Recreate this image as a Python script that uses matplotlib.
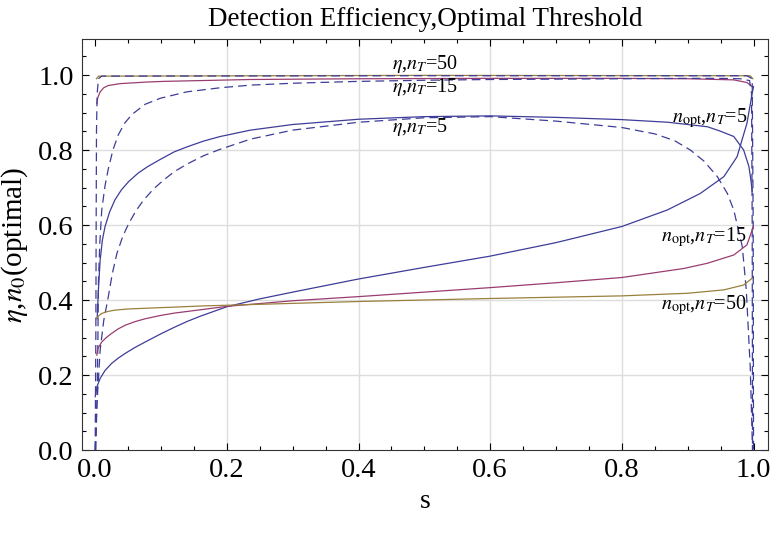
import numpy as np
import matplotlib
matplotlib.use('Agg')
import matplotlib.pyplot as plt
from matplotlib.ticker import MultipleLocator

plt.rcParams['font.family'] = ['Liberation Serif', 'DejaVu Serif']
plt.rcParams['mathtext.fontset'] = 'stix'

# colours (Mathematica default plot style)
c1 = '#3d3d99'
c2 = '#993d71'
c3 = '#99803d'

# efficiency, n_T = 5 (solid)
s_eta5 = [0.003, 0.005, 0.0076, 0.011, 0.015, 0.022, 0.030, 0.040, 0.051, 0.065, 0.080, 0.099, 0.12,
          0.139, 0.165, 0.19, 0.236, 0.3, 0.4, 0.5, 0.6, 0.7, 0.8, 0.87, 0.93, 0.95, 0.97, 0.985,
          0.993, 0.996, 0.998]
eta5 = [0.35, 0.43, 0.507, 0.56, 0.596, 0.635, 0.667, 0.694, 0.716, 0.738, 0.756, 0.775, 0.795,
        0.808, 0.824, 0.836, 0.853, 0.868, 0.882, 0.889, 0.891, 0.887, 0.881, 0.874, 0.862, 0.850,
        0.836, 0.80, 0.756, 0.72, 0.69]

# efficiency, n_T = 15 (solid)
s_eta15 = [0.0025, 0.004, 0.0076, 0.013, 0.02, 0.038, 0.076, 0.104, 0.236, 0.4, 0.6, 0.8, 0.9,
           0.97, 0.99, 0.998]
eta15 = [0.924, 0.94, 0.955, 0.966, 0.972, 0.977, 0.981, 0.983, 0.988, 0.99, 0.991, 0.991, 0.99,
         0.987, 0.98, 0.969]

# efficiency, n_T = 50 (solid)
s_eta50 = [0.002, 0.005, 0.5, 0.995, 0.999]
eta50 = [0.99, 0.997, 0.999, 0.998, 0.99]

# dashed curves
s_d5 = [0.0, 0.0025, 0.0076, 0.013, 0.020, 0.026, 0.033, 0.042, 0.051, 0.062, 0.073, 0.088, 0.104,
        0.12, 0.139, 0.165, 0.19, 0.236, 0.3, 0.4, 0.5, 0.6, 0.7, 0.8, 0.85, 0.88, 0.904, 0.925,
        0.945, 0.96, 0.970, 0.983, 0.989, 0.995, 0.9985]
d5 = [0.0, 0.116, 0.267, 0.345, 0.409, 0.47, 0.524, 0.57, 0.604, 0.638, 0.665, 0.695, 0.72,
      0.742, 0.762, 0.785, 0.802, 0.829, 0.853, 0.874, 0.886, 0.889, 0.877, 0.860, 0.843, 0.825,
      0.80, 0.77, 0.729, 0.685, 0.64, 0.542, 0.427, 0.222, 0.0]

s_d15 = [0.001, 0.003, 0.004, 0.005, 0.007, 0.010, 0.015, 0.020, 0.027, 0.035, 0.045, 0.056,
         0.076, 0.099, 0.139, 0.19, 0.236, 0.3, 0.4, 0.5, 0.6, 0.7, 0.8, 0.9, 0.95, 0.98, 0.994,
         0.997, 0.998, 0.9985]
d15 = [0.0, 0.15, 0.27, 0.45, 0.55, 0.64, 0.705, 0.75, 0.80, 0.84, 0.872, 0.895,
       0.922, 0.938, 0.955, 0.966, 0.973, 0.978, 0.983, 0.986, 0.988, 0.989, 0.99, 0.991,
       0.991, 0.99, 0.985, 0.95, 0.6, 0.0]

s_d50 = [0.0, 0.001, 0.0015, 0.002, 0.003, 0.005, 0.01, 0.5, 0.99, 0.998, 0.9995, 1.0]
d50 = [0.0, 0.3, 0.6, 0.85, 0.95, 0.99, 0.997, 0.998, 0.998, 0.99, 0.6, 0.0]

# optimal threshold
s_n5 = [0.0, 0.003, 0.0076, 0.015, 0.025, 0.035, 0.046, 0.06, 0.076, 0.1, 0.12, 0.14, 0.16, 0.2,
        0.25, 0.3, 0.4, 0.5, 0.6, 0.7, 0.8, 0.869, 0.919, 0.955, 0.975, 0.99, 0.998, 1.0]
n5 = [0.142, 0.17, 0.191, 0.212, 0.231, 0.245, 0.258, 0.273, 0.288, 0.31, 0.327, 0.343, 0.357,
      0.382, 0.403, 0.421, 0.456, 0.487, 0.517, 0.553, 0.596, 0.640, 0.684, 0.729, 0.782,
      0.871, 0.951, 0.969]

s_n15 = [0.0025, 0.004, 0.010, 0.017, 0.025, 0.035, 0.046, 0.06, 0.076, 0.1, 0.12, 0.16, 0.2, 0.3,
         0.4, 0.5, 0.6, 0.7, 0.8, 0.894, 0.93, 0.97, 0.99, 0.998, 0.9995]
n15 = [0.253, 0.27, 0.288, 0.30, 0.311, 0.323, 0.333, 0.342, 0.350, 0.359, 0.365, 0.374, 0.383,
       0.398, 0.409, 0.421, 0.433, 0.446, 0.46, 0.484, 0.498, 0.52, 0.547, 0.587, 0.596]

s_n50 = [0.0025, 0.006, 0.010, 0.018, 0.030, 0.05, 0.076, 0.12, 0.16, 0.2, 0.4, 0.6, 0.8, 0.9,
         0.955, 0.985, 0.998]
n50 = [0.351, 0.359, 0.364, 0.369, 0.373, 0.376, 0.378, 0.381, 0.384, 0.386, 0.396, 0.404, 0.411,
       0.418, 0.427, 0.44, 0.458]

labels = [r'$\eta$,$n_T$=50', r'$\eta$,$n_T$=15', r'$\eta$,$n_T$=5',
          r'$n_{\rm opt}$,$n_T$=5', r'$n_{\rm opt}$,$n_T$=15', r'$n_{\rm opt}$,$n_T$=50']

fig = plt.figure(figsize=(7.7, 5.33), dpi=100)
ax = fig.add_axes([82/770, 1-450/533, 686/770, 411/533])

lw = 0.9
ax.plot(s_eta5, eta5, color=c1, lw=lw)
ax.plot(s_eta15, eta15, color=c2, lw=lw)
ax.plot(s_eta50, eta50, color=c3, lw=lw)
for xs, ys in [(s_d5, d5), (s_d15, d15), (s_d50, d50)]:
    ax.plot(xs, ys, color=c1, lw=lw, dashes=(7, 4))
ax.plot(s_n5, n5, color=c1, lw=lw)
ax.plot(s_n15, n15, color=c2, lw=lw)
ax.plot(s_n50, n50, color=c3, lw=lw)

fs = 14.5
ax.text(0.451, 1.03, labels[0], fontsize=fs, ha='left', va='center')
ax.text(0.451, 0.969, labels[1], fontsize=fs, ha='left', va='center')
ax.text(0.451, 0.862, labels[2], fontsize=fs, ha='left', va='center')
ax.text(0.99, 0.885, labels[3], fontsize=fs, ha='right', va='center')
ax.text(0.99, 0.568, labels[4], fontsize=fs, ha='right', va='center')
ax.text(0.99, 0.387, labels[5], fontsize=fs, ha='right', va='center')

ax.set_xlim(-0.02, 1.022)
ax.set_ylim(0, 1.096)
ax.xaxis.set_minor_locator(MultipleLocator(0.05))
ax.yaxis.set_minor_locator(MultipleLocator(0.05))
ax.set_xticks([0, 0.2, 0.4, 0.6, 0.8, 1.0])
ax.set_xticklabels(['0.0', '0.2', '0.4', '0.6', '0.8', '1.0'])
ax.set_yticks([0, 0.2, 0.4, 0.6, 0.8, 1.0])
ax.set_yticklabels(['0.0', '0.2', '0.4', '0.6', '0.8', '1.0'])
ax.tick_params(which='both', direction='in', top=True, right=True, labelsize=20.5, width=0.8)
ax.tick_params(which='major', length=5, pad=6)
ax.tick_params(which='minor', length=2.8)

for v in [0.2, 0.4, 0.6, 0.8]:
    ax.axvline(v, color='#dddddd', lw=1.0, zorder=0)
    ax.axhline(v, color='#dddddd', lw=1.0, zorder=0)

for sp in ax.spines.values():
    sp.set_linewidth(0.8)
    sp.set_color('#333333')

ax.set_xlabel('s', fontsize=20, labelpad=4)
ax.set_ylabel(r'$\eta$,$n_0$(optimal)', fontsize=21, labelpad=6)
ax.set_title('Detection Efficiency,Optimal Threshold', fontsize=19.5, pad=9)

fig.savefig('out.png', dpi=100)
